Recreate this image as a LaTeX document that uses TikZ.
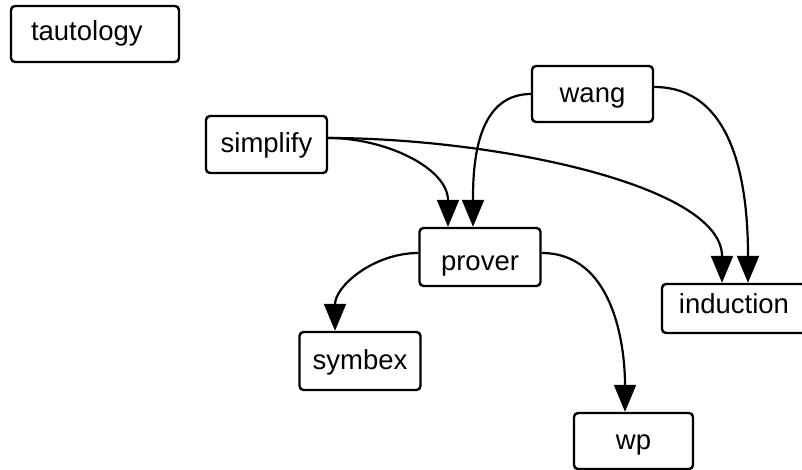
\documentclass[tikz,border=0pt]{standalone}
\usepackage{fontspec}
\setmainfont{Liberation Sans}
\usetikzlibrary{arrows.meta}

\begin{document}
\begin{tikzpicture}[x=1pt, y=-1pt,
		mod/.style={draw, rounded corners=4pt, line width=2.4pt, inner sep=0pt,
			minimum width=121pt, minimum height=56pt, text height=20pt, text depth=4pt,
			font=\fontsize{27.5}{30}\selectfont},
		dep/.style={line width=2.2pt, -{Triangle[width=22pt,length=27pt]}}]
	\useasboundingbox (0,0) rectangle (802,469);

	% modules
	\node[mod, text width=128pt, inner xsep=20pt, align=left, text height=18pt, text depth=6pt] (tautology) at (95,34) {tautology};
	\node[mod] (wang) at (592.5,94) {wang};
	\node[mod, minimum height=57pt] (simplify) at (266.5,144.5) {simplify};
	\node[mod, minimum height=58pt, text height=33pt, text depth=6pt] (prover) at (480,257) {prover};
	\node[mod, minimum width=144pt, minimum height=49pt, text height=15pt, text depth=5pt] (induction) at (734,308.5) {induction};
	\node[mod, minimum height=58pt] (symbex) at (360,361) {symbex};
	\node[mod, minimum width=119pt] (wp) at (633.5,441) {wp};

	% dependencies
	\draw[dep] ([yshift=6.5pt]simplify.east) to[out=0, in=90] ([xshift=-32pt]prover.north);
	\draw[dep] (wang.west) to[out=180, in=90] ([xshift=-7pt]prover.north);
	\draw[dep] ([yshift=6.5pt]simplify.east) to[out=0, in=90, in looseness=0.6] ([xshift=-12pt]induction.north);
	\draw[dep] ([yshift=7pt]wang.east) to[out=0, in=90] ([xshift=14pt]induction.north);
	\draw[dep] ([yshift=4pt]prover.west) to[out=180, in=90] ([xshift=-25pt]symbex.north);
	\draw[dep] ([yshift=4pt]prover.east) to[out=0, in=90] ([xshift=-8.5pt]wp.north);
\end{tikzpicture}
\end{document}
